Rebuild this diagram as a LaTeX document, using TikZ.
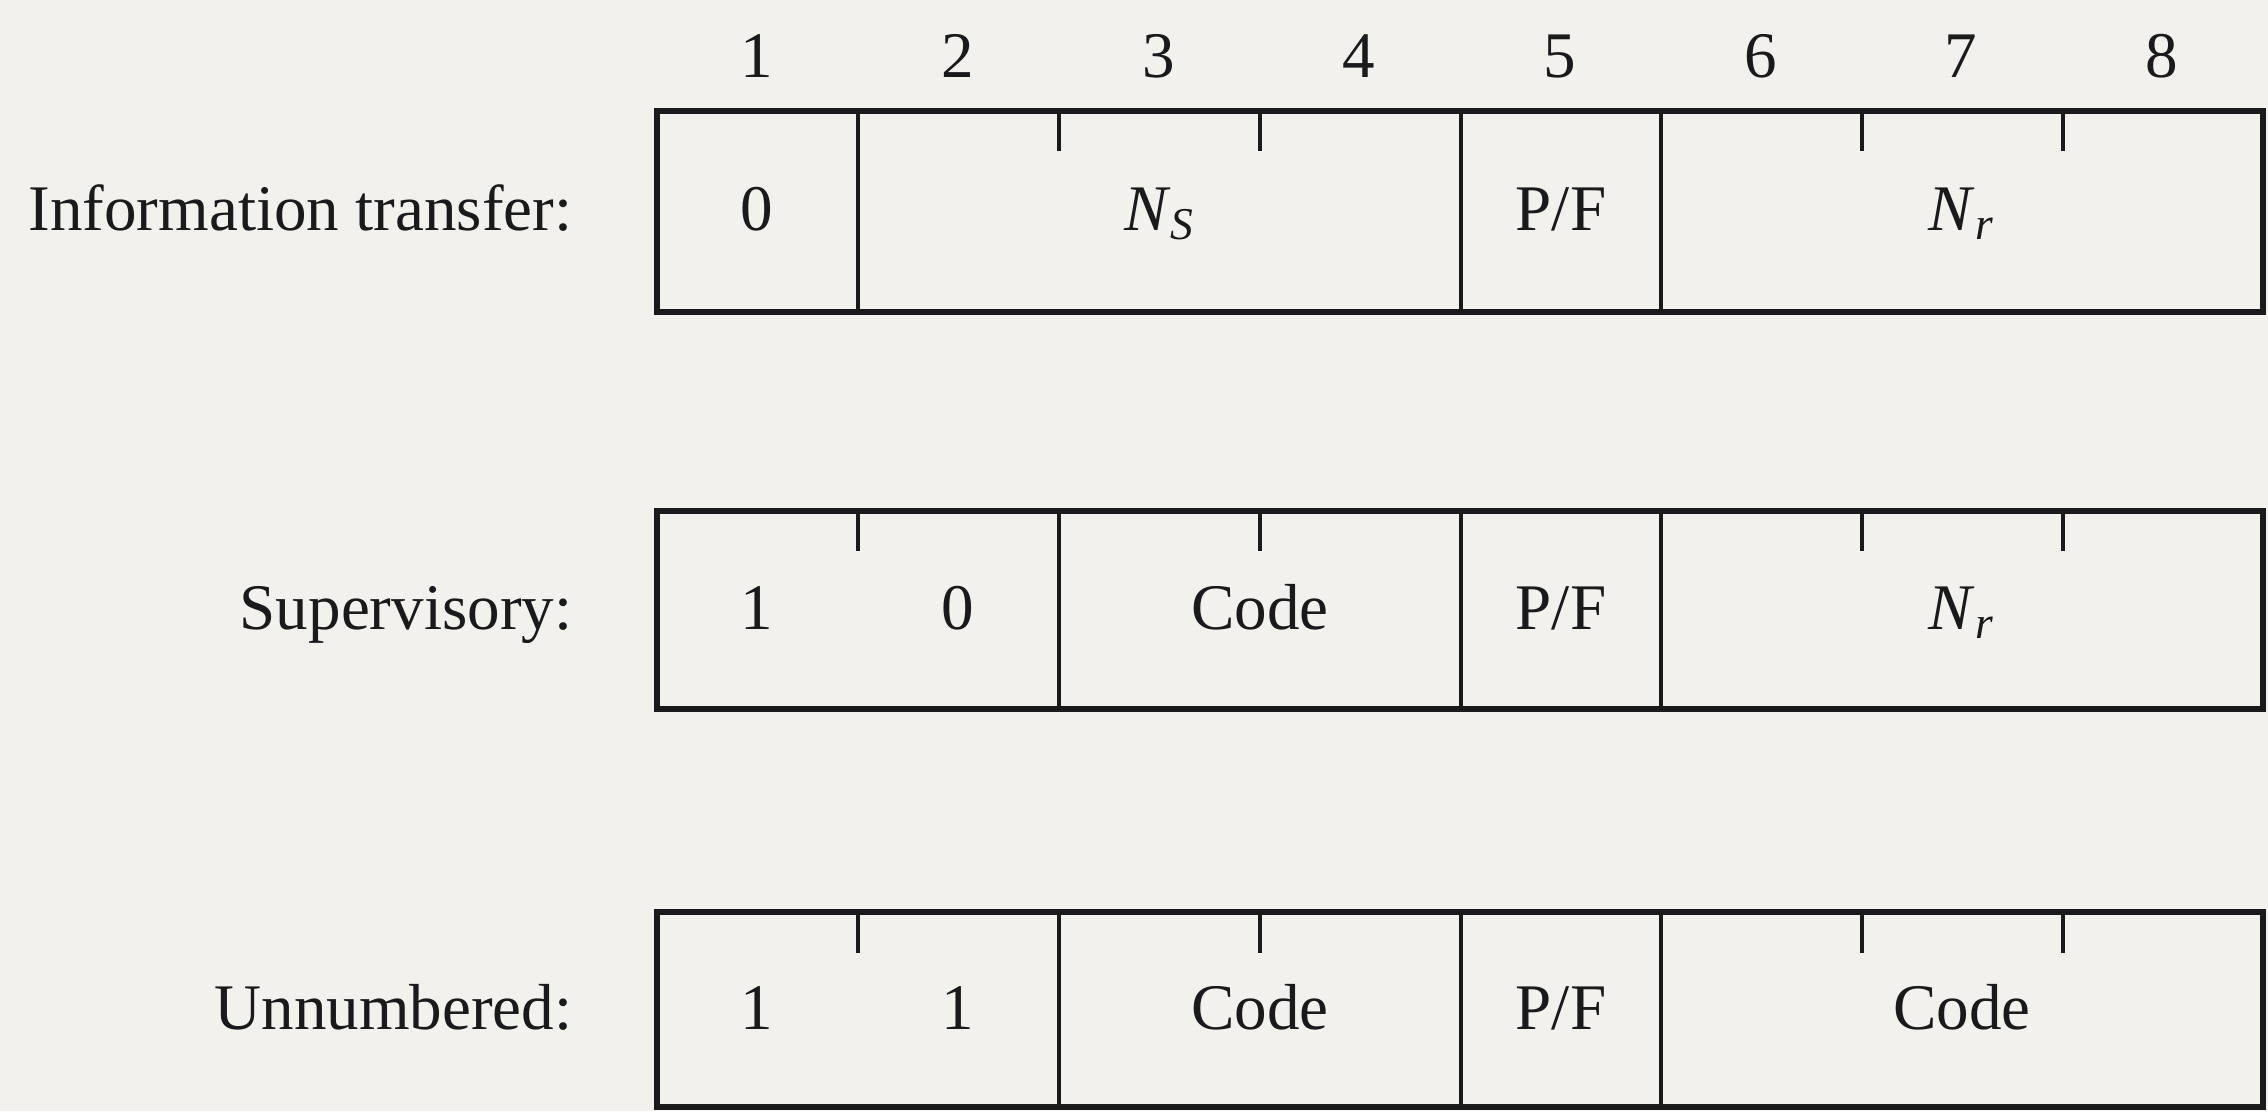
\documentclass[tikz,border=0pt]{standalone}
\usepackage{fontspec}
\setmainfont{Liberation Serif}
\definecolor{ink}{HTML}{1A1A1A}
\definecolor{paper}{HTML}{F3F1EE}
\begin{document}
\begin{tikzpicture}[x=0.01cm,y=-0.01cm,
  framebox/.style={line width=1.6pt, draw=ink},
  divider/.style={line width=0.9pt, draw=ink},
  bittick/.style={line width=0.9pt, draw=ink},
  lab/.style={font=\fontsize{18.5}{22}\selectfont, text=ink, inner sep=0pt, anchor=base},
  rowlab/.style={lab, anchor=base east}]
\fill[paper] (0,0) rectangle (2268,1111);
\useasboundingbox (0,0) rectangle (2268,1111);

% bit numbers
\foreach \i in {1,...,8} {
  \node[lab] (bit\i) at ({757+200.7*(\i-1)},77) {\i};
}

% ---------- Row 1: Information transfer ----------
\node[rowlab] (lab1) at (573,230) {Information transfer:};
\draw[framebox] (657,111) rectangle (2263,312);
\foreach \x in {858,1461,1661} \draw[divider] (\x,111) -- (\x,312);
\foreach \x in {1059,1260,1862,2063} \draw[bittick] (\x,111) -- (\x,151);
\node[lab] (a1) at (757,230) {0};
\node[lab] (a2) at (1160,230) {\textit{N}\textsubscript{\textit{S}}};
\node[lab] (a3) at (1561,230) {P/F};
\node[lab] (a4) at (1962,230) {\textit{N}\textsubscript{\textit{r}}};

% ---------- Row 2: Supervisory ----------
\node[rowlab] (lab2) at (573,629) {Supervisory:};
\draw[framebox] (657,511) rectangle (2263,709);
\foreach \x in {1059,1461,1661} \draw[divider] (\x,511) -- (\x,709);
\foreach \x in {858,1260,1862,2063} \draw[bittick] (\x,511) -- (\x,551);
\node[lab] (b1) at (757,629) {1};
\node[lab] (b2) at (958,629) {0};
\node[lab] (b3) at (1260,629) {Code};
\node[lab] (b4) at (1561,629) {P/F};
\node[lab] (b5) at (1962,629) {\textit{N}\textsubscript{\textit{r}}};

% ---------- Row 3: Unnumbered ----------
\node[rowlab] (lab3) at (573,1029) {Unnumbered:};
\draw[framebox] (657,912) rectangle (2263,1107);
\foreach \x in {1059,1461,1661} \draw[divider] (\x,912) -- (\x,1107);
\foreach \x in {858,1260,1862,2063} \draw[bittick] (\x,912) -- (\x,953);
\node[lab] (c1) at (757,1029) {1};
\node[lab] (c2) at (958,1029) {1};
\node[lab] (c3) at (1260,1029) {Code};
\node[lab] (c4) at (1561,1029) {P/F};
\node[lab] (c5) at (1962,1029) {Code};
\end{tikzpicture}
\end{document}
